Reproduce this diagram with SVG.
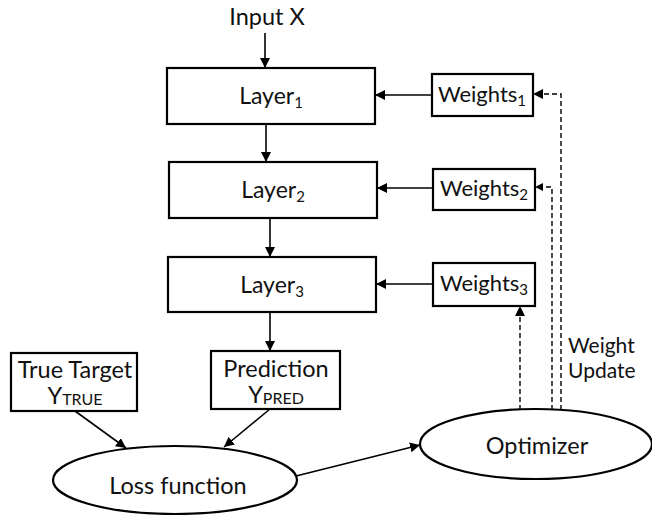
<svg xmlns="http://www.w3.org/2000/svg" width="652" height="515" viewBox="0 0 652 515">
<style>
text{font-family:Lato,"Open Sans","Liberation Sans",sans-serif;font-size:21px;fill:#111;text-anchor:middle}
.big{font-size:23.5px}
.lay{font-size:23px}
.wt{font-size:22px}
.sub{font-size:15px}
.bsub{font-size:16px}
.box{fill:#fff;stroke:#000;stroke-width:2.2}
.ell{fill:#fff;stroke:#000;stroke-width:2.2}
.ln{fill:none;stroke:#000;stroke-width:1.6}
.dash{fill:none;stroke:#000;stroke-width:1.4;stroke-dasharray:5 3}
</style>
<defs>
<marker id="ah" viewBox="0 0 10 10" refX="10" refY="5" markerWidth="10" markerHeight="10" markerUnits="userSpaceOnUse" orient="auto">
<path d="M0,0 L10,5 L0,10 Z" fill="#000"/>
</marker>
<marker id="ahs" viewBox="0 0 10 10" refX="10" refY="5" markerWidth="8" markerHeight="8" markerUnits="userSpaceOnUse" orient="auto">
<path d="M0,0 L10,5 L0,10 Z" fill="#000"/>
</marker>
</defs>
<g id="input"><text class="big" x="267" y="25">Input X</text></g>
<g id="layer1"><rect class="box" x="167" y="68" width="208" height="56"/><text class="lay" x="271" y="104">Layer<tspan class="sub" dy="4">1</tspan></text></g>
<g id="layer2"><rect class="box" x="169" y="162" width="208" height="56"/><text class="lay" x="273" y="198">Layer<tspan class="sub" dy="4">2</tspan></text></g>
<g id="layer3"><rect class="box" x="168" y="257" width="208" height="55"/><text class="lay" x="272" y="293">Layer<tspan class="sub" dy="4">3</tspan></text></g>
<g id="weights1"><rect class="box" x="432" y="74" width="101" height="42"/><text class="wt" x="482" y="102">Weights<tspan class="sub" dy="4">1</tspan></text></g>
<g id="weights2"><rect class="box" x="433" y="169" width="102" height="41"/><text class="wt" x="484" y="196">Weights<tspan class="sub" dy="4">2</tspan></text></g>
<g id="weights3"><rect class="box" x="433" y="263" width="102" height="43"/><text class="wt" x="484" y="291">Weights<tspan class="sub" dy="4">3</tspan></text></g>
<g id="truetarget"><rect class="box" x="11" y="353" width="126" height="58"/><text class="big" x="75" y="378">True Target</text><text class="big" x="75" y="404">Y<tspan class="bsub" dy="1">TRUE</tspan></text></g>
<g id="prediction"><rect class="box" x="211" y="351" width="129" height="58"/><text class="big" x="276" y="377">Prediction</text><text class="big" x="276" y="403">Y<tspan class="bsub" dy="1">PRED</tspan></text></g>
<g id="loss"><ellipse class="ell" cx="175" cy="480" rx="122" ry="34"/><text class="big" x="178" y="494">Loss function</text></g>
<g id="optimizer"><ellipse class="ell" cx="536" cy="444" rx="116" ry="35"/><text class="big" x="537" y="454">Optimizer</text></g>
<g id="weightupdate"><text x="568" y="353" style="text-anchor:start">Weight</text><text x="568" y="378" style="text-anchor:start">Update</text></g>
<g id="connectors">
<line class="ln" x1="265" y1="33" x2="265" y2="68" marker-end="url(#ah)"/>
<line class="ln" x1="266" y1="124" x2="266" y2="162" marker-end="url(#ah)"/>
<line class="ln" x1="270" y1="218" x2="270" y2="257" marker-end="url(#ah)"/>
<line class="ln" x1="270" y1="312" x2="270" y2="351" marker-end="url(#ah)"/>
<line class="ln" x1="432" y1="95" x2="375" y2="95" marker-end="url(#ah)"/>
<line class="ln" x1="433" y1="188" x2="377" y2="188" marker-end="url(#ah)"/>
<line class="ln" x1="433" y1="284" x2="376" y2="284" marker-end="url(#ah)"/>
<line class="ln" x1="75" y1="411" x2="126" y2="448" marker-end="url(#ah)"/>
<line class="ln" x1="270" y1="409" x2="224" y2="447" marker-end="url(#ah)"/>
<line class="ln" x1="296" y1="476" x2="420" y2="445" marker-end="url(#ah)"/>
<line class="dash" x1="520" y1="410" x2="520" y2="306" marker-end="url(#ah)"/>
<polyline class="dash" points="552,410 552,187 535,187" marker-end="url(#ahs)"/>
<polyline class="dash" points="561,410 561,94 533,94" marker-end="url(#ah)"/>
</g>
</svg>
